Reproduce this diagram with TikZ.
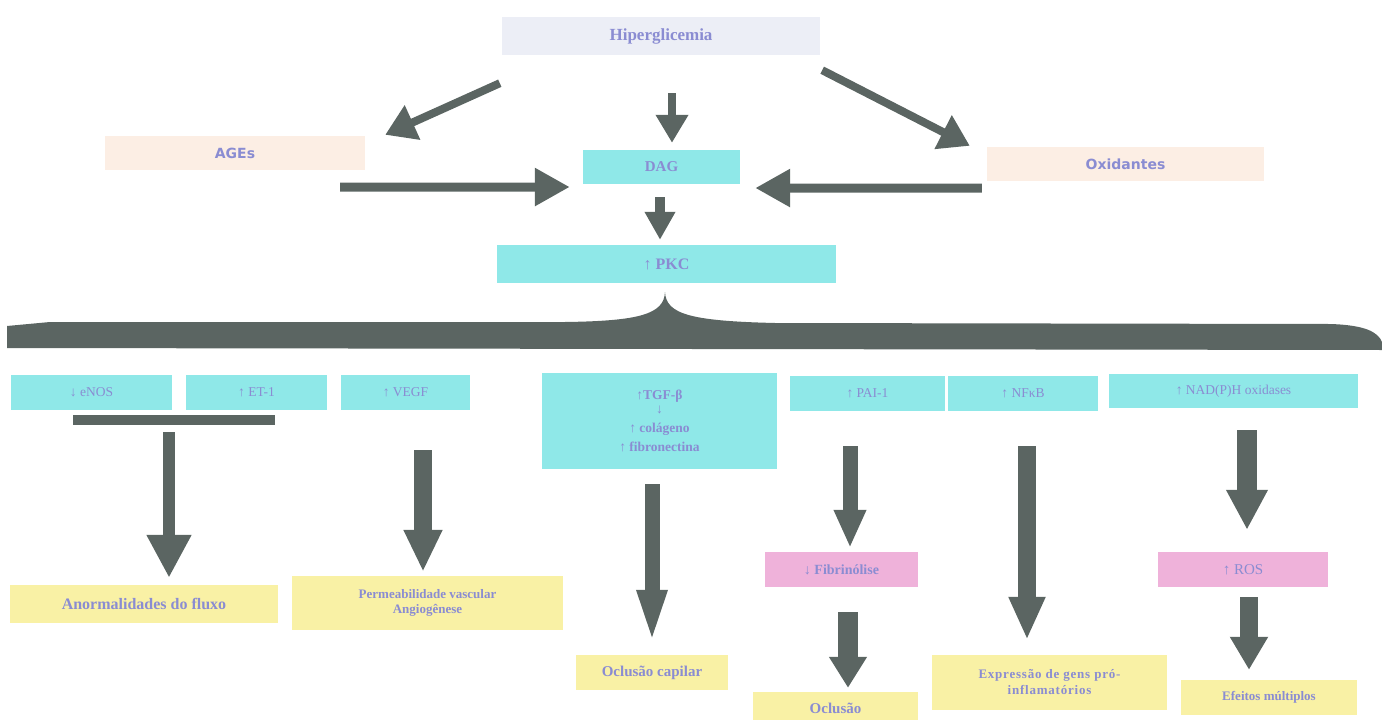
\documentclass[tikz,border=0pt]{standalone}
\usepackage{fontspec}
\setmainfont{Liberation Serif}
\newfontfamily\sansf{DejaVu Sans}
\usetikzlibrary{arrows.meta}
\definecolor{cyanb}{HTML}{8FE8E8}
\definecolor{peach}{HTML}{FCEEE4}
\definecolor{lavbg}{HTML}{ECEEF6}
\definecolor{yel}{HTML}{F9F1A5}
\definecolor{pinkb}{HTML}{EFB2DA}
\definecolor{dgrey}{HTML}{5B6562}
\definecolor{txt}{HTML}{8A8CD2}
\tikzset{
  box/.style={inner sep=0pt, align=center, text=txt, font=\fontsize{13.5}{15}\selectfont},
  cbox/.style={box, fill=cyanb},
  pbox/.style={box, fill=peach, font=\sansf\bfseries\fontsize{14}{16}\selectfont},
  ybox/.style={box, fill=yel, font=\bfseries\fontsize{13.5}{16}\selectfont},
  kbox/.style={box, fill=pinkb},
}
\newcommand{\blkarrow}[7]{% shaft, head width, head length, from, to, shorten<, shorten>
  \draw[line width=#1, draw=dgrey, fill=dgrey, shorten <=#6, shorten >=#7,
    -{Triangle[width=#2, length=#3]}] #4 -- #5;}
\begin{document}
\begin{tikzpicture}[x=1pt,y=-1pt]
\useasboundingbox (0,0) rectangle (1382,720);
% top nodes
\node[box, fill=lavbg, minimum width=318pt, minimum height=38pt, font=\bfseries\fontsize{17}{19}\selectfont] (hip) at (661,36) {Hiperglicemia};
\node[pbox, minimum width=260pt, minimum height=34pt] (ages) at (235,153) {AGEs};
\node[cbox, minimum width=157pt, minimum height=34pt, font=\bfseries\fontsize{15}{17}\selectfont] (dag) at (661.5,167) {DAG};
\node[pbox, minimum width=277pt, minimum height=34pt] (ox) at (1125.5,164) {Oxidantes};
\node[cbox, minimum width=339pt, minimum height=38pt, font=\bfseries\fontsize{16}{18}\selectfont] (pkc) at (666.5,264) {↑ PKC};
% brace
\fill[dgrey] (7,326) -- (50,322) -- (565,322)
  .. controls (640,321) and (664,314) .. (665,292)
  .. controls (666,314) and (690,321) .. (775,323)
  -- (1330,324) .. controls (1365,325) and (1378,332) .. (1382,342)
  -- (1382,350) -- (7,348) -- cycle;
% row nodes
\node[cbox, minimum width=161pt, minimum height=35pt] (enos) at (91.5,392.5) {↓ eNOS};
\node[cbox, minimum width=141pt, minimum height=35pt] (et1) at (256.5,392.5) {↑ ET-1};
\node[cbox, minimum width=129pt, minimum height=35pt] (vegf) at (405.5,392.5) {↑ VEGF};
\node[cbox, minimum width=235pt, minimum height=96pt, font=\bfseries\fontsize{13.5}{19}\selectfont] (tgf) at (659.5,421) {↑TGF-β\\[-5pt]↓\\↑ colágeno\\↑ fibronectina};
\node[cbox, minimum width=155pt, minimum height=35pt] (pai) at (867.5,393.5) {↑ PAI-1};
\node[cbox, minimum width=150pt, minimum height=35pt] (nfkb) at (1023,393.5) {↑ NFκB};
\node[cbox, minimum width=249pt, minimum height=34pt] (nadph) at (1233.5,391) {↑ NAD(P)H oxidases};
\node[fill=dgrey, inner sep=0pt, minimum width=202pt, minimum height=10pt] (bar) at (174,420) {};
% intermediate
\node[kbox, minimum width=153pt, minimum height=35pt, font=\bfseries\fontsize{14}{16}\selectfont] (fib) at (841.5,569.5) {↓ Fibrinólise};
\node[kbox, minimum width=170pt, minimum height=35pt, font=\fontsize{15}{17}\selectfont] (ros) at (1243,569.5) {↑ ROS};
% outcomes
\node[ybox, minimum width=268pt, minimum height=38pt, font=\bfseries\fontsize{16}{18}\selectfont] (anorm) at (144,604) {Anormalidades do fluxo};
\node[ybox, minimum width=271pt, minimum height=54pt, font=\bfseries\fontsize{13}{15}\selectfont] (perm) at (427.5,603) {Permeabilidade vascular\\Angiogênese};
\node[ybox, minimum width=152pt, minimum height=35pt, font=\bfseries\fontsize{15}{17}\selectfont] (ocap) at (652,672.5) {Oclusão capilar};
\node[ybox, minimum width=165pt, minimum height=32pt, font=\bfseries\fontsize{15}{17}\selectfont] (ocl) at (835.5,708) {Oclusão};
\node[ybox, minimum width=235pt, minimum height=55pt, font=\bfseries\fontsize{13}{16}\selectfont] (expr) at (1049.5,682.5) {\addfontfeature{LetterSpace=6}Expressão de gens pró-\\\addfontfeature{LetterSpace=6}inflamatórios};
\node[ybox, minimum width=176pt, minimum height=35pt, font=\bfseries\fontsize{13}{15}\selectfont] (efe) at (1269,697.5) {Efeitos múltiplos};
% x positions of vertical arrows
\coordinate (a1) at (169,0);
\coordinate (a2) at (423,0);
\coordinate (a3) at (652,0);
\coordinate (a4) at (850,0);
\coordinate (a5) at (848,0);
\coordinate (a6) at (1027,0);
\coordinate (a7) at (1247,0);
\coordinate (a8) at (1249,0);
\coordinate (a9) at (672,0);
\coordinate (a10) at (660,0);
% top arrows
\blkarrow{8pt}{36pt}{30pt}{([xshift=-2pt,yshift=-28pt]hip.south west)}{([xshift=20pt,yshift=1pt]ages.north east)}{0pt}{0pt}
\blkarrow{8pt}{36pt}{30pt}{([xshift=2pt,yshift=-15pt]hip.south east)}{([xshift=-17pt,yshift=1pt]ox.north west)}{0pt}{0pt}
\blkarrow{8pt}{31pt}{28pt}{(hip.south -| a9)}{(dag.north -| a9)}{38pt}{7pt}
\blkarrow{9pt}{36pt}{35pt}{([xshift=-25pt,yshift=-17pt]ages.south east)}{([xshift=-13pt,yshift=-20pt]dag.west)}{0pt}{0pt}
\blkarrow{9pt}{36pt}{35pt}{([xshift=-5pt,yshift=-7pt]ox.south west)}{([xshift=15pt,yshift=-21pt]dag.east)}{0pt}{0pt}
\blkarrow{10pt}{29pt}{28pt}{(dag.south -| a10)}{(pkc.north -| a10)}{13pt}{5pt}
% lower arrows
\blkarrow{12pt}{42pt}{43pt}{(bar.south -| a1)}{(anorm.north -| a1)}{7pt}{7pt}
\blkarrow{18pt}{36pt}{42pt}{(vegf.south -| a2)}{(perm.north -| a2)}{40pt}{4pt}
\blkarrow{15pt}{26pt}{58pt}{(tgf.south -| a3)}{(ocap.north -| a3)}{15pt}{7pt}
\blkarrow{15pt}{30pt}{38pt}{(pai.south -| a4)}{(fib.north -| a4)}{35pt}{4pt}
\blkarrow{20pt}{36pt}{31pt}{(fib.south -| a5)}{(ocl.north -| a5)}{25pt}{4pt}
\blkarrow{18pt}{34pt}{43pt}{(nfkb.south -| a6)}{(expr.north -| a6)}{35pt}{15pt}
\blkarrow{20pt}{39pt}{40pt}{(nadph.south -| a7)}{(ros.north -| a7)}{22pt}{22pt}
\blkarrow{18pt}{36pt}{33pt}{(ros.south -| a8)}{(efe.north -| a8)}{10pt}{10pt}
\end{tikzpicture}
\end{document}
